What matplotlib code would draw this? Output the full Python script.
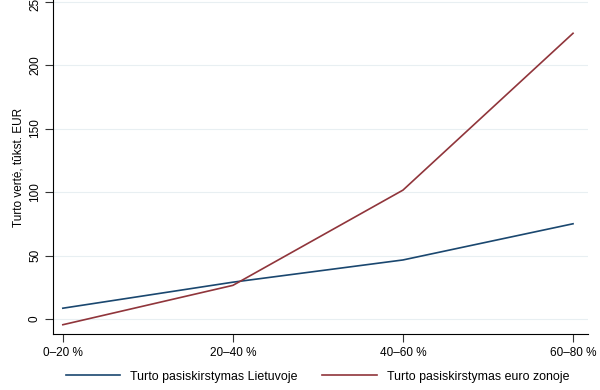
import matplotlib
matplotlib.use('Agg')
import matplotlib.pyplot as plt

# Data
CATEGORIES = ['0–20 %', '20–40 %', '40–60 %', '60–80 %']
LIETUVA = [8.5, 29, 46.5, 75]
EURO_ZONA = [-4.5, 26.5, 101.5, 225]
Y_TICKS = [0, 50, 100, 150, 200, 250]

BLUE = '#1a476f'
RED = '#90353b'
GRID = '#e8eff2'

plt.rcParams['font.family'] = ['Liberation Sans', 'DejaVu Sans']

fig = plt.figure(figsize=(6, 3.9), dpi=100)
ax = fig.add_axes([0.088, 0.1436, 0.892, 0.8564])

x = list(range(len(CATEGORIES)))
ax.plot(x, LIETUVA, color=BLUE, linewidth=1.2, label='Turto pasiskirstymas Lietuvoje')
ax.plot(x, EURO_ZONA, color=RED, linewidth=1.2, label='Turto pasiskirstymas euro zonoje')

ax.set_xlim(-0.059, 3.088)
ax.set_ylim(-11.8, 251.2)
ax.set_xticks(x)
ax.set_xticklabels(CATEGORIES, fontsize=8.5)
ax.set_yticks(Y_TICKS)
ax.set_yticklabels([str(v) for v in Y_TICKS], fontsize=8.5, rotation=90, va='center')
ax.set_ylabel('Turto vertė, tūkst. EUR', fontsize=8.5, labelpad=3)

ax.grid(axis='y', color=GRID, linewidth=0.8)
ax.set_axisbelow(True)
for side in ['top', 'right']:
    ax.spines[side].set_visible(False)
for side in ['left', 'bottom']:
    ax.spines[side].set_linewidth(0.8)
ax.tick_params(length=6, width=0.8, color='#333333')
ax.tick_params(axis='y', pad=2.5)

fig.legend(loc='lower center', bbox_to_anchor=(0.529, -0.01), ncol=2, frameon=False,
           fontsize=8.9, handlelength=4.4, handletextpad=0.8, columnspacing=2.0)

plt.savefig('out.png', dpi=100)
